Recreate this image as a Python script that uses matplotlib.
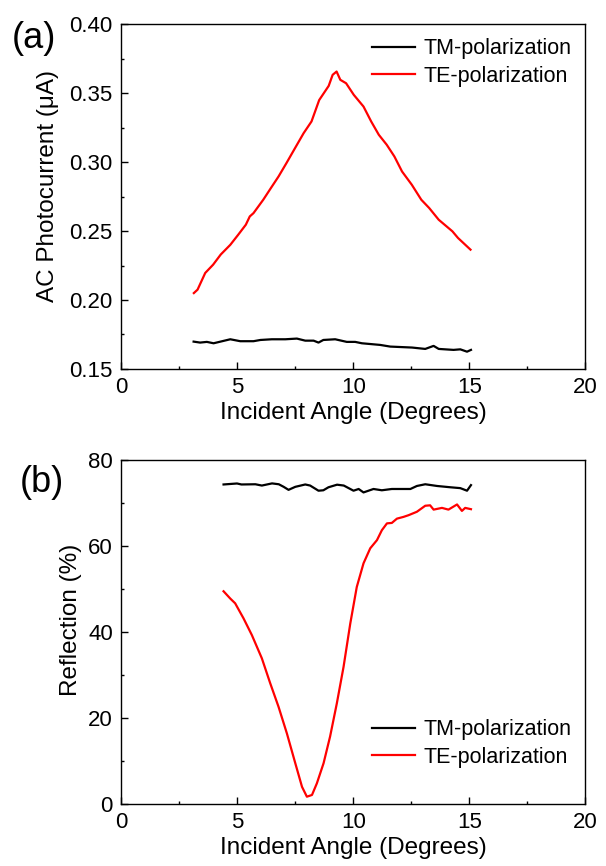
import matplotlib
matplotlib.use('Agg')
import matplotlib.pyplot as plt
from matplotlib.ticker import MultipleLocator

plt.rcParams['font.family'] = ['Liberation Sans', 'DejaVu Sans']

# (a) AC photocurrent vs incident angle
pc_te_angle = [3.13, 3.29, 3.62, 3.96, 4.29, 4.70, 5.04, 5.37, 5.54, 5.70, 6.12, 6.45,
               6.78, 7.12, 7.45, 7.86, 8.20, 8.53, 8.94, 9.11, 9.28, 9.44, 9.69, 10.02,
               10.44, 10.77, 11.10, 11.44, 11.77, 12.10, 12.52, 12.93, 13.27, 13.68,
               14.27, 14.51, 15.05]
pc_te = [0.205, 0.2075, 0.2196, 0.2256, 0.233, 0.240, 0.2473, 0.2546, 0.2606, 0.263,
         0.2727, 0.2812, 0.2896, 0.2993, 0.309, 0.321, 0.3295, 0.345, 0.3553, 0.3633,
         0.3657, 0.3597, 0.3572, 0.3488, 0.3403, 0.3295, 0.3198, 0.3126, 0.3041,
         0.2932, 0.2836, 0.2727, 0.2667, 0.2582, 0.2498, 0.245, 0.2365]

pc_tm_angle = [3.12, 3.40, 3.69, 3.98, 4.70, 5.13, 5.70, 6.00, 6.49, 7.07, 7.57, 7.93,
               8.29, 8.50, 8.71, 9.22, 9.72, 10.08, 10.37, 11.16, 11.59, 12.53, 13.10,
               13.46, 13.68, 14.32, 14.61, 14.90, 15.07]
pc_tm = [0.1698, 0.1691, 0.1696, 0.1686, 0.1715, 0.1701, 0.1701, 0.1710, 0.1715, 0.1715,
         0.1720, 0.1705, 0.1705, 0.1691, 0.1710, 0.1715, 0.1696, 0.1696, 0.1686, 0.1674,
         0.1662, 0.1655, 0.1645, 0.1667, 0.1645, 0.1638, 0.1642, 0.1625, 0.1638]

# (b) reflection vs incident angle
ref_tm_angle = [4.41, 4.99, 5.18, 5.78, 6.06, 6.50, 6.79, 7.00, 7.21, 7.50, 7.93, 8.14,
                8.50, 8.71, 8.93, 9.30, 9.59, 10.01, 10.23, 10.44, 10.87, 11.23, 11.66,
                12.46, 12.74, 13.10, 13.61, 14.18, 14.61, 14.90, 15.07]
ref_tm = [74.35, 74.58, 74.35, 74.4, 74.1, 74.6, 74.4, 73.8, 73.1, 73.8, 74.35, 74.1,
          72.9, 73.0, 73.7, 74.3, 74.1, 72.9, 73.3, 72.5, 73.3, 73.0, 73.3, 73.3, 74.0,
          74.4, 74.0, 73.7, 73.5, 72.9, 74.2]

ref_te_angle = [4.41, 4.70, 4.91, 5.27, 5.63, 6.06, 6.42, 6.78, 7.14, 7.50, 7.79, 8.00,
                8.22, 8.43, 8.72, 9.00, 9.29, 9.58, 9.87, 10.15, 10.44, 10.73, 11.02,
                11.23, 11.45, 11.66, 11.88, 12.16, 12.38, 12.74, 13.10, 13.31, 13.46,
                13.82, 14.10, 14.47, 14.68, 14.82, 15.07]
ref_te = [49.5, 47.8, 46.7, 43.2, 39.3, 33.9, 28.1, 22.6, 16.4, 9.5, 4.0, 1.7, 2.1, 4.8,
          9.5, 15.7, 23.4, 31.9, 42.0, 50.5, 56.0, 59.5, 61.4, 63.7, 65.3, 65.4, 66.4,
          66.8, 67.2, 68.0, 69.4, 69.5, 68.5, 68.9, 68.5, 69.7, 68.2, 68.9, 68.6]

fig = plt.figure(figsize=(6.06, 8.66), dpi=100)
ax1 = fig.add_axes([0.2, 0.574, 0.766, 0.398])
ax2 = fig.add_axes([0.2, 0.0716, 0.766, 0.397])

for ax in (ax1, ax2):
    ax.tick_params(which='both', direction='in', top=False, right=False,
                   labelsize=16, width=1, pad=6)
    ax.tick_params(which='major', length=5)
    ax.tick_params(which='minor', length=2.5)
    for s in ax.spines.values():
        s.set_linewidth(1)
    ax.set_xlim(0, 20)
    ax.xaxis.set_major_locator(MultipleLocator(5))
    ax.xaxis.set_minor_locator(MultipleLocator(2.5))
    ax.set_xlabel('Incident Angle (Degrees)', fontsize=17.5, labelpad=3)

# top panel
ax1.plot(pc_tm_angle, pc_tm, color='black', lw=1.6, label='TM-polarization')
ax1.plot(pc_te_angle, pc_te, color='red', lw=1.6, label='TE-polarization')
ax1.set_ylim(0.15, 0.40)
ax1.yaxis.set_major_locator(MultipleLocator(0.05))
ax1.yaxis.set_minor_locator(MultipleLocator(0.025))
ax1.yaxis.set_major_formatter(plt.FormatStrFormatter('%.2f'))
ax1.set_ylabel('AC Photocurrent (\u03bcA)', fontsize=17.5)
ax1.yaxis.set_label_coords(-0.135, 0.53)
ax1.legend(loc='upper right', fontsize=15.5, frameon=False, handlelength=2.0,
           handletextpad=0.4, labelspacing=0.3, borderaxespad=0.25)
fig.text(0.02, 0.955, '(a)', fontsize=26, va='center')

# bottom panel
ax2.plot(ref_tm_angle, ref_tm, color='black', lw=1.6, label='TM-polarization')
ax2.plot(ref_te_angle, ref_te, color='red', lw=1.6, label='TE-polarization')
ax2.set_ylim(0, 80)
ax2.yaxis.set_major_locator(MultipleLocator(20))
ax2.yaxis.set_minor_locator(MultipleLocator(10))
ax2.set_ylabel('Reflection (%)', fontsize=17.5)
ax2.yaxis.set_label_coords(-0.085, 0.535)
ax2.legend(loc='lower right', bbox_to_anchor=(1.0, 0.065), fontsize=15.5, frameon=False,
           handlelength=2.0, handletextpad=0.4, labelspacing=0.3, borderaxespad=0.25)
fig.text(0.032, 0.443, '(b)', fontsize=26, va='center')

fig.savefig('out.png', dpi=100)
